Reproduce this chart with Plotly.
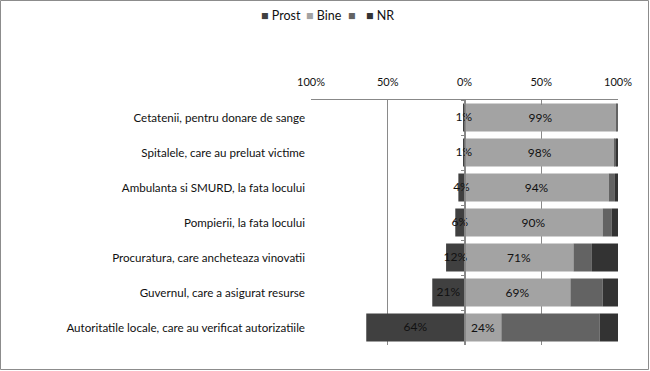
import plotly.graph_objects as go

categories = [
    "Cetatenii, pentru donare de sange",
    "Spitalele, care au preluat victime",
    "Ambulanta si SMURD, la fata locului",
    "Pompierii, la fata locului",
    "Procuratura, care ancheteaza vinovatii",
    "Guvernul, care a asigurat resurse",
    "Autoritatile locale, care au verificat autorizatiile",
]
prost = [1, 1, 4, 6, 12, 21, 64]
bine = [99, 98, 94, 90, 71, 69, 24]
blank = [1, 1, 4, 6, 12, 21, 64]
nr = [0, 1, 2, 4, 17, 10, 12]

series_names = ["Prost", "Bine", "", "NR"]
series_colors = ["#404040", "#a3a3a3", "#636363", "#333333"]

tick_vals = [-100, -50, 0, 50, 100]
tick_text = ["100%", "50%", "0%", "50%", "100%"]

FONT = "Lato"
W, H = 650, 371
L, R, T, B = 311, 32, 100, 26
pw = W - L - R
ph = H - T - B

fig = go.Figure()
fig.add_trace(go.Bar(y=categories, x=[-v for v in prost], name="Prost", orientation="h",
                     marker=dict(color=series_colors[0], line=dict(width=0)), hoverinfo="skip"))
fig.add_trace(go.Bar(y=categories, x=bine, name="Bine", orientation="h",
                     marker=dict(color=series_colors[1], line=dict(width=0)),
                     text=[f"{v}%" for v in bine], textposition="inside",
                     insidetextanchor="middle",
                     textfont=dict(color="#111111", size=12, family=FONT), hoverinfo="skip"))
fig.add_trace(go.Bar(y=categories, x=blank, name=" ", orientation="h",
                     marker=dict(color=series_colors[2], line=dict(width=0)), hoverinfo="skip"))
fig.add_trace(go.Bar(y=categories, x=nr, name="NR", orientation="h",
                     marker=dict(color=series_colors[3], line=dict(width=0)), hoverinfo="skip"))
# Prost labels centred on the Prost bars
fig.add_trace(go.Scatter(y=categories, x=[-v / 2 for v in prost], mode="text",
                         text=[f"{v}%" for v in prost], showlegend=False,
                         textfont=dict(color="#111111", size=12, family=FONT), hoverinfo="skip"))
# dummy trace for the zero-line axis
fig.add_trace(go.Scatter(y=categories, x=[0] * len(categories), mode="markers",
                         marker=dict(opacity=0), showlegend=False, yaxis="y2", hoverinfo="skip"))

fig.update_layout(
    width=W, height=H,
    margin=dict(l=L, r=R, t=T, b=B),
    barmode="relative",
    bargap=0.2,
    plot_bgcolor="white",
    paper_bgcolor="white",
    font=dict(family=FONT, size=12, color="#111111"),
    showlegend=False,
    xaxis=dict(side="top", range=[-100, 100], tickvals=tick_vals, ticktext=tick_text,
               ticks="inside", ticklen=5, tickcolor="#888888",
               showline=True, linecolor="#888888", linewidth=1,
               showgrid=True, gridcolor="#8a8a8a", gridwidth=1, zeroline=False,
               tickfont=dict(size=11, family=FONT), ticklabelstandoff=9),
    yaxis=dict(autorange="reversed", showline=False, showgrid=False, ticks="",
               tickfont=dict(size=11.6, family=FONT), ticklabelstandoff=5),
    yaxis2=dict(overlaying="y", matches="y", anchor="free", position=0.5, side="left",
                showticklabels=False, showline=True, linecolor="#888888", linewidth=1,
                ticks="outside", ticklen=4, tickcolor="#888888", tickson="boundaries",
                showgrid=False),
)

# legend drawn as text entries (Excel-style compact legend)
legend_px = [259, 304, 346, 364]
for name, color, px in zip(series_names, series_colors, legend_px):
    label = f"<span style='color:{color}'>■</span>" + (f" {name}" if name else "")
    fig.add_annotation(text=label, xref="paper", yref="paper",
                       x=(px - L) / pw, y=1 + (T - 16) / ph,
                       xanchor="left", yanchor="middle", showarrow=False,
                       font=dict(size=12.5, family=FONT, color="#111111"))

# outer chart border
fig.add_shape(type="rect", xref="paper", yref="paper",
              x0=-(L - 0.5) / pw, x1=1 + (R - 1.5) / pw,
              y0=-(B - 1.5) / ph, y1=1 + (T - 0.5) / ph,
              line=dict(color="#8c8c8c", width=1), layer="below")

fig.write_html("out.html", config={"displayModeBar": False},
               post_script="document.body.style.margin='0';")
